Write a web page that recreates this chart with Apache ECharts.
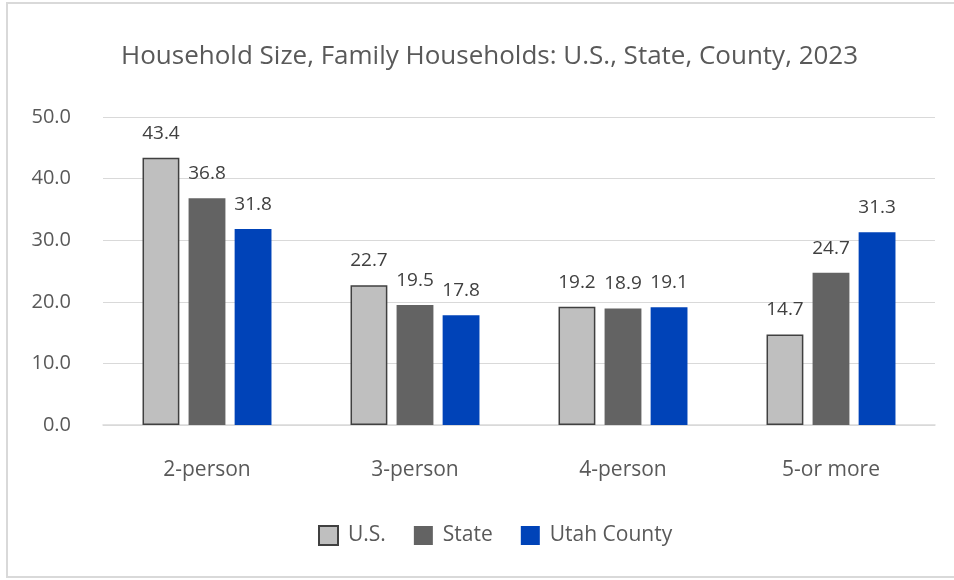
<!DOCTYPE html>
<html>
<head>
<meta charset="utf-8">
<script src="https://cdn.jsdelivr.net/npm/echarts@6/dist/echarts.min.js"></script>
<style>
  html, body { margin: 0; padding: 0; background: #fff; }
  #chart { width: 954px; height: 580px; }
</style>
</head>
<body>
<div id="chart"></div>
<script>
const categories = ['2-person', '3-person', '4-person', '5-or more'];
const usValues = [43.4, 22.7, 19.2, 14.7];
const stateValues = [36.8, 19.5, 18.9, 24.7];
const countyValues = [31.8, 17.8, 19.1, 31.3];
const seriesNames = ['U.S.', 'State', 'Utah County'];

const chart = echarts.init(document.getElementById('chart'));

// 标签样式
const labelStyle = {
  show: true,
  position: 'top',
  distance: 15,
  color: '#404040',
  fontSize: 19,
  fontFamily: 'Open Sans',
  formatter: p => p.value.toFixed(1)
};

const option = {
  animation: false,
  textStyle: { fontFamily: 'Open Sans' },
  graphic: [{
    type: 'rect',
    shape: { x: 7, y: 3, width: 960, height: 574 },
    style: { fill: 'none', stroke: '#d9d9d9', lineWidth: 2 },
    silent: true
  }],
  title: {
    text: 'Household Size, Family Households: U.S., State, County, 2023',
    left: 116,
    top: 39,
    textStyle: { color: '#595959', fontSize: 26, fontWeight: 'normal', fontFamily: 'Open Sans' }
  },
  legend: {
    bottom: 29,
    left: 313,
    icon: 'rect',
    itemWidth: 19,
    itemHeight: 19,
    itemGap: 28,
    textStyle: { color: '#595959', fontSize: 21, padding: [0, 0, 0, 5] },
    data: seriesNames
  },
  grid: { left: 103, right: 19, top: 117, bottom: 155 },
  xAxis: {
    type: 'category',
    data: categories,
    axisLine: { lineStyle: { color: '#d9d9d9', width: 1.5 } },
    axisTick: { show: false },
    axisLabel: { color: '#595959', fontSize: 21, margin: 35 }
  },
  yAxis: {
    type: 'value',
    min: 0,
    max: 50,
    interval: 10,
    axisLabel: { color: '#595959', fontSize: 20, margin: 32, formatter: v => v.toFixed(1) },
    splitLine: { lineStyle: { color: '#d9d9d9', width: 1 } }
  },
  series: [
    {
      name: seriesNames[0],
      type: 'bar',
      data: usValues,
      barGap: '25%',
      barCategoryGap: '38%',
      itemStyle: { color: '#bfbfbf', borderColor: '#404040', borderWidth: 1.5 },
      label: labelStyle
    },
    {
      name: seriesNames[1],
      type: 'bar',
      data: stateValues,
      itemStyle: { color: '#636363' },
      label: labelStyle
    },
    {
      name: seriesNames[2],
      type: 'bar',
      data: countyValues,
      itemStyle: { color: '#0043b8' },
      label: labelStyle
    }
  ]
};

chart.setOption(option);
</script>
</body>
</html>
